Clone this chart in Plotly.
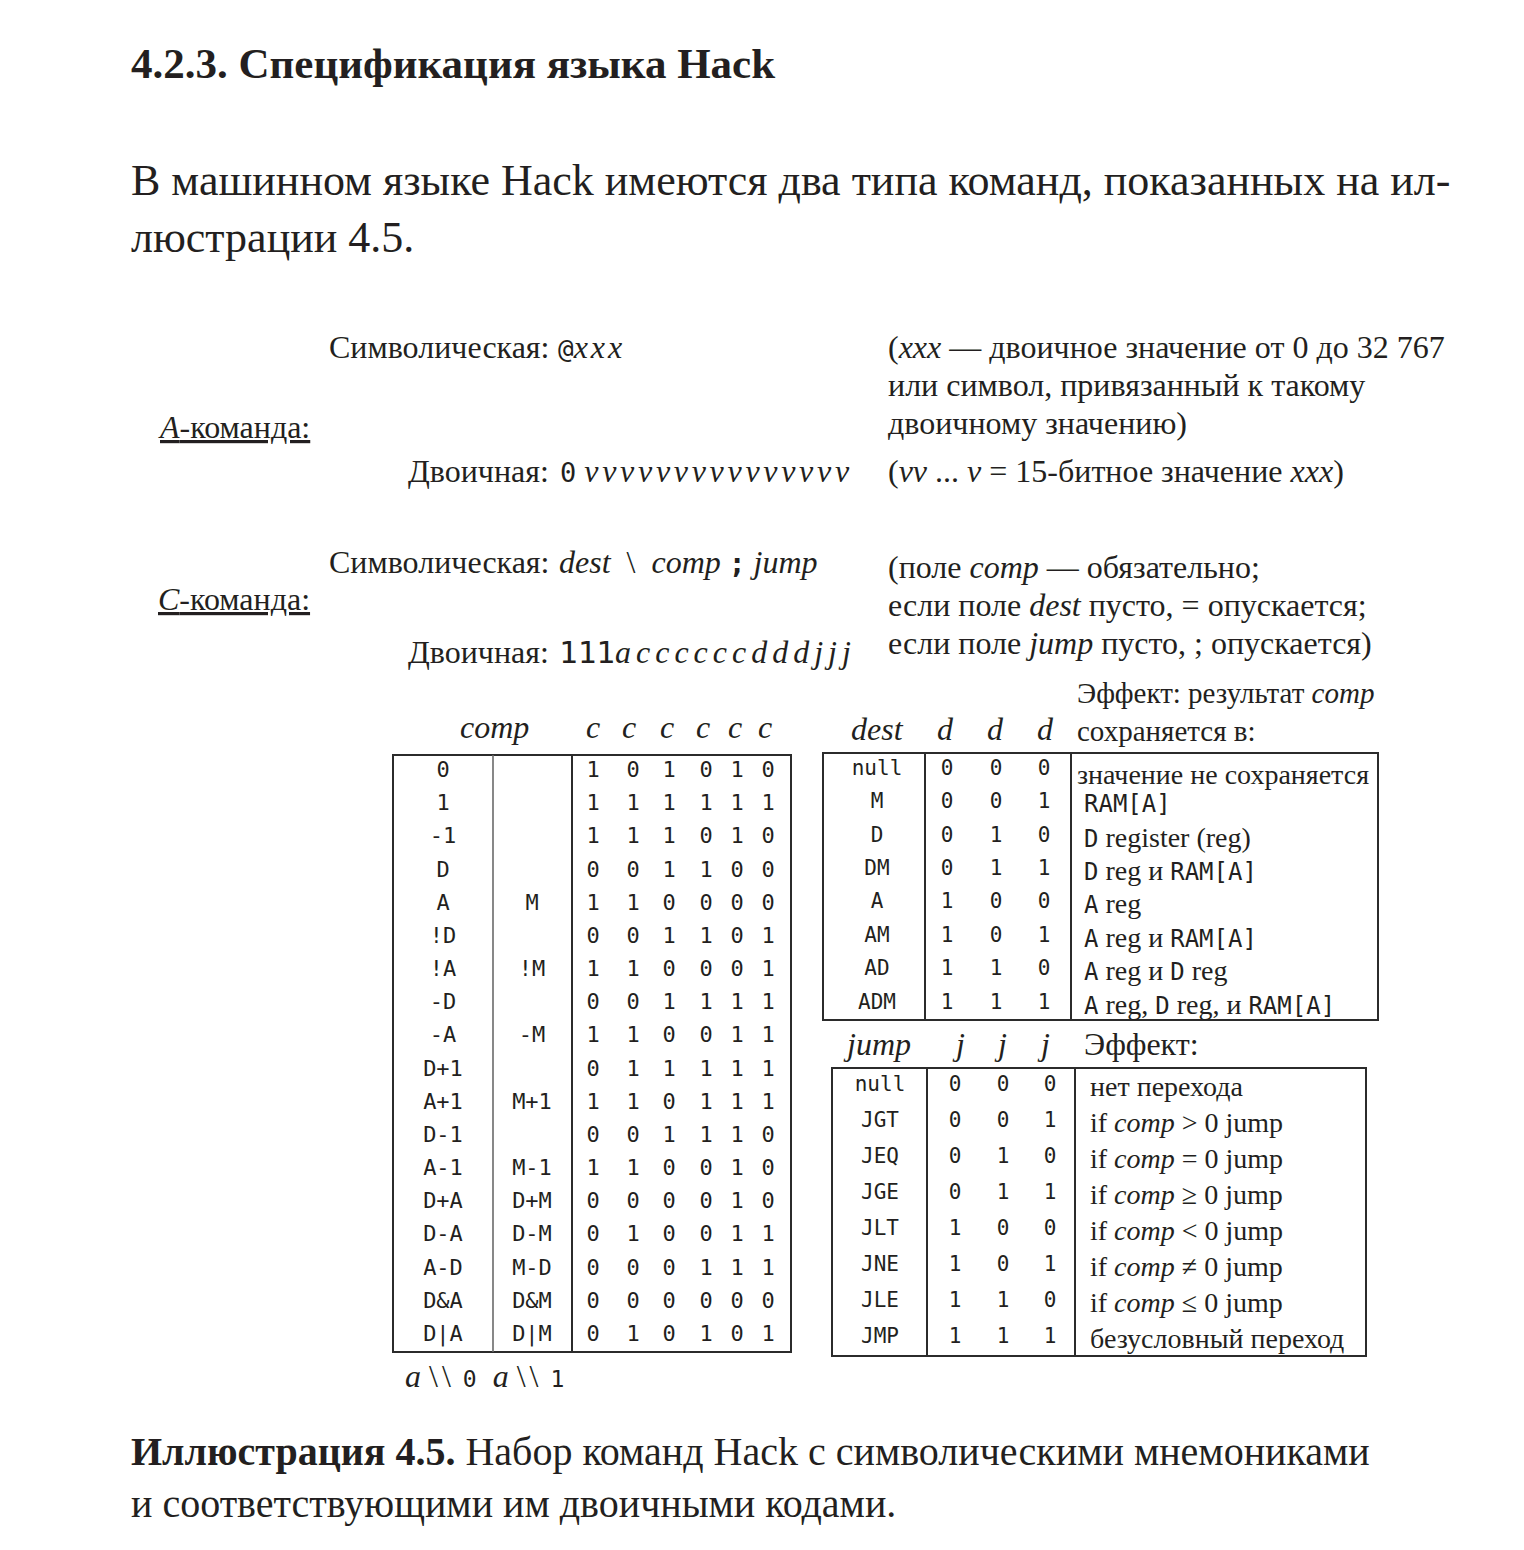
import plotly.graph_objects as go

W, H = 1524, 1550
OFF = 8  # default page body margin of the html page
SERIF = "Liberation Serif"
MONO = "DejaVu Sans Mono"
INK = "#231f20"

# ---------------- data ----------------
title_text = "4.2.3. Спецификация языка Hack"
intro_lines = [
    "В машинном языке Hack имеются два типа команд, показанных на ил-",
    "люстрации 4.5.",
]
caption_bold = "Иллюстрация 4.5."
caption_lines = [
    " Набор команд Hack с символическими мнемониками",
    "и соответствующими им двоичными кодами.",
]

a_label = "<i>A</i>-команда:"
c_label = "<i>C</i>-команда:"
sym_label = "Символическая:"
bin_label = "Двоичная:"
a_notes = [
    "(<i>xxx</i> — двоичное значение от 0 до 32 767",
    "или символ, привязанный к такому",
    "двоичному значению)",
]
a_bin_note = "(<i>vv</i> ... <i>v</i> = 15-битное значение <i>xxx</i>)"
c_notes = [
    "(поле <i>comp</i> — обязательно;",
    "если поле <i>dest</i> пусто, = опускается;",
    "если поле <i>jump</i> пусто, ; опускается)",
]
dest_effect_head = ["Эффект: результат <i>comp</i>", "сохраняется в:"]
jump_effect_head = "Эффект:"

comp_a0 = ["0", "1", "-1", "D", "A", "!D", "!A", "-D", "-A", "D+1", "A+1",
           "D-1", "A-1", "D+A", "D-A", "A-D", "D&A", "D|A"]
comp_a1 = ["", "", "", "", "M", "", "!M", "", "-M", "", "M+1",
           "", "M-1", "D+M", "D-M", "M-D", "D&M", "D|M"]
comp_bits = ["101010", "111111", "111010", "001100", "110000", "001101",
             "110001", "001111", "110011", "011111", "110111", "001110",
             "110010", "000010", "010011", "000111", "000000", "010101"]

dest_names = ["null", "M", "D", "DM", "A", "AM", "AD", "ADM"]
dest_bits = ["000", "001", "010", "011", "100", "101", "110", "111"]
dest_effects = [
    "значение не сохраняется",
    "[m]RAM[A][/m]",
    "[m]D[/m] register (reg)",
    "[m]D[/m] reg и [m]RAM[A][/m]",
    "[m]A[/m] reg",
    "[m]A[/m] reg и [m]RAM[A][/m]",
    "[m]A[/m] reg и [m]D[/m] reg",
    "[m]A[/m] reg, [m]D[/m] reg, и [m]RAM[A][/m]",
]

jump_names = ["null", "JGT", "JEQ", "JGE", "JLT", "JNE", "JLE", "JMP"]
jump_bits = ["000", "001", "010", "011", "100", "101", "110", "111"]
jump_effects = [
    "нет перехода",
    "if <i>comp</i> &gt; 0 jump",
    "if <i>comp</i> = 0 jump",
    "if <i>comp</i> ≥ 0 jump",
    "if <i>comp</i> &lt; 0 jump",
    "if <i>comp</i> ≠ 0 jump",
    "if <i>comp</i> ≤ 0 jump",
    "безусловный переход",
]

# ---------------- helpers ----------------
def mono(s, size=None):
    st = f"font-family:{MONO}"
    if size:
        st += f";font-size:{size}px"
    return f'<span style="{st}">{s}</span>'


def rich(s, size=None):
    return s.replace("[m]", f'<span style="font-family:{MONO}' + (f';font-size:{size}px' if size else '') + '">').replace("[/m]", "</span>")


def esc(s):
    return s.replace("&", "&amp;")


def spaced(s, px):
    return f'<span style="letter-spacing:{px}px">{s}</span>'


annotations = []
shapes = []


def text(x, baseline, s, size, anchor="left", family=SERIF, color=INK):
    annotations.append(dict(
        x=x, y=baseline - 0.33 * size, xref="x", yref="y", text=s,
        showarrow=False, xanchor=anchor, yanchor="middle", align=anchor,
        font=dict(family=family, size=size, color=color), borderpad=0,
    ))


def rect(x0, y0, x1, y1, w=2, c="#2b2b2b"):
    shapes.append(dict(type="rect", xref="x", yref="y", x0=x0, y0=y0, x1=x1, y1=y1,
                       line=dict(color=c, width=w), fillcolor="rgba(0,0,0,0)"))


def vline(x, y0, y1, w=2, c="#2b2b2b"):
    shapes.append(dict(type="line", xref="x", yref="y", x0=x, y0=y0, x1=x, y1=y1,
                       line=dict(color=c, width=w)))


# ---------------- page text ----------------
text(130, 78, f"<b>{title_text}</b>", 43)
text(130, 195, intro_lines[0], 44)
text(130, 252, intro_lines[1], 44)
text(130, 1465, f"<b>{caption_bold}</b>{caption_lines[0]}", 40)
text(130, 1517, caption_lines[1], 40)

# ---------------- instruction formats ----------------
FS = 32
NB = "&nbsp;"
text(550, 358, sym_label, FS, anchor="right")
text(557, 358, mono("@", 26) + "<i>" + spaced("xxx", 3) + "</i>", FS)
text(157, 438, f'<span style="text-decoration:underline">{a_label}</span>', FS)
text(550, 482, bin_label, FS, anchor="right")
text(559, 482, mono("0", 27) + " <i>" + spaced("vvvvvvvvvvvvvvv", 3.7) + "</i>", FS)
for i, line in enumerate(a_notes):
    text(887, 358 + 38 * i, line, FS)
text(887, 482, a_bin_note, FS)

text(550, 573, sym_label, FS, anchor="right")
text(558, 573, f"<i>dest</i> {NB}\\{NB} <i>comp</i>{NB}" + mono("<b>;</b>", 28)
     + f"{NB}<i>jump</i>", FS)
text(157, 610, f'<span style="text-decoration:underline">{c_label}</span>', FS)
text(550, 663, bin_label, FS, anchor="right")
text(558, 663, mono("111", 31) + "<i>" + spaced("accccccdddjjj", 5) + "</i>", FS)
for i, line in enumerate(c_notes):
    text(887, 578 + 38 * i, line, FS)

# ---------------- comp table ----------------
CX0, CX1, CY0, CY1 = 393, 791, 755, 1352
crow = (CY1 - CY0) / len(comp_a0)
rect(CX0, CY0, CX1, CY1)
vline(493, CY0, CY1, w=1.6, c="#6a6a6a")
vline(572, CY0, CY1)
comp_bit_x = [593, 633, 669, 706, 737, 768]
comp_head_x = [593, 629, 667, 703, 735, 765]
text(494, 738, "<i>comp</i>", FS, anchor="center")
for x in comp_head_x:
    text(x, 738, "<i>c</i>", FS, anchor="center")

cy = [CY0 + crow * (i + 0.5) for i in range(len(comp_a0))]
traces = []
traces.append(go.Scatter(x=[443] * len(comp_a0), y=cy, mode="text",
                         text=[esc(s) for s in comp_a0], textposition="middle center",
                         textfont=dict(family=MONO, size=22, color=INK), hoverinfo="skip"))
traces.append(go.Scatter(x=[532] * len(comp_a1), y=cy, mode="text",
                         text=[esc(s) for s in comp_a1], textposition="middle center",
                         textfont=dict(family=MONO, size=22, color=INK), hoverinfo="skip"))
for k, bx in enumerate(comp_bit_x):
    traces.append(go.Scatter(x=[bx] * len(comp_bits), y=cy, mode="text",
                             text=[b[k] for b in comp_bits], textposition="middle center",
                             textfont=dict(family=MONO, size=22, color=INK), hoverinfo="skip"))
text(404, 1387, "<i>a</i> " + spaced("\\\\", 4) + " " + mono("0", 23)
     + f" {NB}<i>a</i> " + spaced("\\\\", 4) + " " + mono("1", 23), FS)

# ---------------- dest table ----------------
DX0, DX1, DY0, DY1 = 823, 1378, 753, 1020
drow = (DY1 - DY0) / len(dest_names)
rect(DX0, DY0, DX1, DY1)
vline(925, DY0, DY1)
vline(1071, DY0, DY1)
dest_bit_x = [947, 996, 1044]
text(877, 740, "<i>dest</i>", FS, anchor="center")
for x in [945, 995, 1045]:
    text(x, 740, "<i>d</i>", FS, anchor="center")
annotations.append(dict(
    x=1076, y=741, xref="x", yref="y", text="<br>".join(dest_effect_head),
    showarrow=False, xanchor="left", yanchor="bottom", align="left",
    font=dict(family=SERIF, size=29, color=INK), borderpad=0, yshift=-7,
))
dy = [DY0 + drow * (i + 0.5) for i in range(len(dest_names))]
traces.append(go.Scatter(x=[877] * len(dest_names), y=dy, mode="text",
                         text=dest_names, textposition="middle center",
                         textfont=dict(family=MONO, size=21, color=INK), hoverinfo="skip"))
for k, bx in enumerate(dest_bit_x):
    traces.append(go.Scatter(x=[bx] * len(dest_bits), y=dy, mode="text",
                             text=[b[k] for b in dest_bits], textposition="middle center",
                             textfont=dict(family=MONO, size=21, color=INK), hoverinfo="skip"))
for i, eff in enumerate(dest_effects):
    text(1076 if i == 0 else 1083, dy[i] + 10 + (4 if i == 0 else 0), rich(eff, 24), 28)

# ---------------- jump table ----------------
JX0, JX1, JY0, JY1 = 832, 1366, 1068, 1356
jrow = (JY1 - JY0) / len(jump_names)
rect(JX0, JY0, JX1, JY1)
vline(927, JY0, JY1)
vline(1075, JY0, JY1)
jump_bit_x = [955, 1003, 1050]
text(877, 1055, "<i>jump</i>", FS, anchor="center")
for x in [958, 1000, 1043]:
    text(x, 1055, "<i>j</i>", FS, anchor="center")
text(1083, 1055, jump_effect_head, FS)
jy = [JY0 + jrow * (i + 0.5) for i in range(len(jump_names))]
traces.append(go.Scatter(x=[880] * len(jump_names), y=jy, mode="text",
                         text=jump_names, textposition="middle center",
                         textfont=dict(family=MONO, size=21, color=INK), hoverinfo="skip"))
for k, bx in enumerate(jump_bit_x):
    traces.append(go.Scatter(x=[bx] * len(jump_bits), y=jy, mode="text",
                             text=[b[k] for b in jump_bits], textposition="middle center",
                             textfont=dict(family=MONO, size=21, color=INK), hoverinfo="skip"))
for i, eff in enumerate(jump_effects):
    text(1089, jy[i] + 10, eff, 28)

fig = go.Figure(traces)
fig.update_layout(
    width=W, height=H, margin=dict(l=0, r=0, t=0, b=0),
    paper_bgcolor="white", plot_bgcolor="white", showlegend=False,
    xaxis=dict(range=[OFF, W + OFF], visible=False, fixedrange=True),
    yaxis=dict(range=[H + OFF, OFF], visible=False, fixedrange=True),
    annotations=annotations, shapes=shapes,
)
fig.write_html("out.html")
